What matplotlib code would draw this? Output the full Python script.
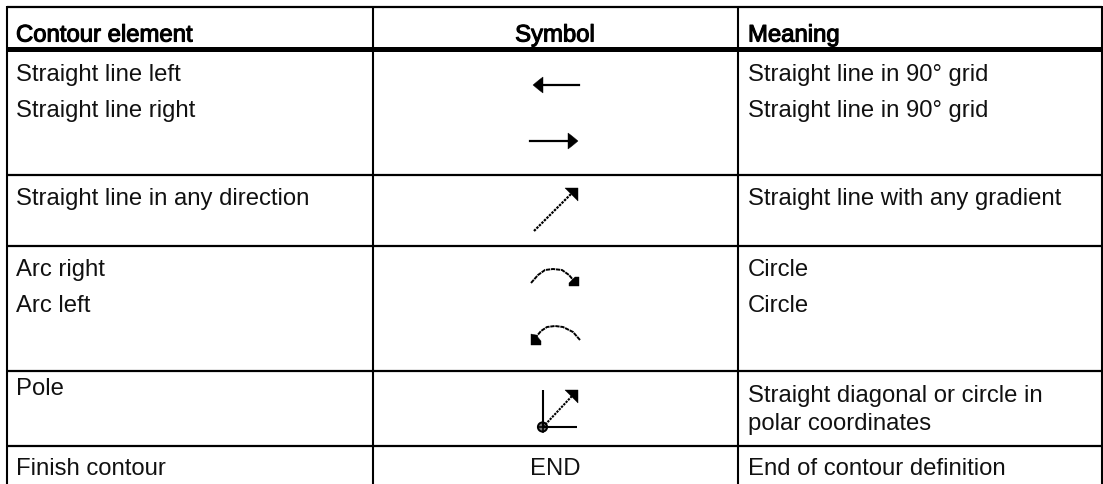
"""Contour element table with arrow symbols -> out.png."""

import matplotlib
matplotlib.use("Agg")
import matplotlib.pyplot as plt
import matplotlib.patheffects as pe
from matplotlib.patches import Circle, Polygon

WIDTH, HEIGHT = 1103, 484

HEADERS = ["Contour element", "Symbol", "Meaning"]
ELEMENTS = ["Straight line left", "Straight line right", "Straight line in any direction",
            "Arc right", "Arc left", "Pole", "Finish contour"]
MEANINGS = ["Straight line in 90° grid", "Straight line in 90° grid",
            "Straight line with any gradient", "Circle", "Circle",
            "Straight diagonal or circle in", "polar coordinates",
            "End of contour definition"]
END_SYMBOL = "END"

# layout, in image pixels
COL_X = [7, 373, 738, 1102]
ROW_Y = [7, 175, 246, 371, 446]
HEADER_Y = 49
ELEMENT_Y = [81, 117, 205, 276, 312, 395, 475]
MEANING_Y = [81, 117, 205, 276, 312, 402, 430, 475]
LEFT_TEXT = 16
RIGHT_TEXT = 748
MID_TEXT = 555
FONT = 17.2


def arrow_head(ax, pts):
    ax.add_patch(Polygon(pts, closed=True, fc="black", ec="black", lw=0.3))


def main():
    fig = plt.figure(figsize=(WIDTH / 100, HEIGHT / 100), dpi=100)
    ax = fig.add_axes([0, 0, 1, 1])
    ax.set_xlim(0, WIDTH)
    ax.set_ylim(HEIGHT, 0)
    ax.axis("off")
    plt.rcParams["font.family"] = ["Liberation Sans", "DejaVu Sans"]

    # grid
    for x in COL_X:
        ax.plot([x, x], [6, HEIGHT], color="black", lw=1.5, solid_capstyle="butt")
    for y in ROW_Y:
        ax.plot([COL_X[0], COL_X[-1]], [y, y], color="black", lw=1.6, solid_capstyle="butt")
    ax.plot([COL_X[0], COL_X[-1]], [HEADER_Y, HEADER_Y], color="black", lw=3.6, solid_capstyle="butt")

    # header, the original is a smeared regular weight
    bold = [pe.withStroke(linewidth=0.8, foreground="black")]
    ax.text(LEFT_TEXT, 41.5, HEADERS[0], fontsize=FONT, path_effects=bold)
    ax.text(MID_TEXT, 41.5, HEADERS[1], fontsize=FONT, ha="center", path_effects=bold)
    ax.text(RIGHT_TEXT, 41.5, HEADERS[2], fontsize=FONT, path_effects=bold)

    for name, y in zip(ELEMENTS, ELEMENT_Y):
        ax.text(LEFT_TEXT, y, name, fontsize=FONT, color="#111111")
    for name, y in zip(MEANINGS, MEANING_Y):
        ax.text(RIGHT_TEXT, y, name, fontsize=FONT, color="#111111")
    ax.text(MID_TEXT, 475, END_SYMBOL, fontsize=FONT, ha="center", color="#111111")

    # straight left / right
    ax.plot([541, 579], [85, 85], color="black", lw=1.6)
    arrow_head(ax, [(533, 85), (539, 80), (543, 77), (543, 93), (539, 90)])
    ax.plot([530, 570], [141, 141], color="black", lw=1.6)
    arrow_head(ax, [(578, 141), (572, 136), (568, 133), (568, 149), (572, 146)])

    # any direction
    ax.plot([534, 572], [231, 193], color="black", lw=1.6, ls=(0, (1.1, 0.5)))
    arrow_head(ax, [(578, 188), (578, 201), (573, 196), (570, 193), (565, 188)])

    # arc right / left
    ax.plot([531, 538, 545, 553, 562, 569, 574], [283, 275, 270, 269, 270, 275, 281],
            color="black", lw=1.4, ls=(0, (2.2, 0.4)))
    arrow_head(ax, [(579, 277), (579, 286), (569, 286), (569, 283), (575, 277)])
    ax.plot([580, 573, 563, 555, 547, 541, 536], [340, 332, 327, 326, 327, 331, 337],
            color="black", lw=1.4, ls=(0, (2.2, 0.4)))
    arrow_head(ax, [(531, 334), (531, 345), (541, 345), (541, 341), (536, 335)])

    # pole
    ax.plot([543, 543], [390, 427], color="black", lw=1.5, solid_capstyle="butt")
    ax.plot([543, 577], [427, 427], color="black", lw=1.5, solid_capstyle="butt")
    ax.plot([543, 572], [427, 396], color="black", lw=1.5, ls=(0, (1.1, 0.5)))
    arrow_head(ax, [(578, 390), (578, 403), (573, 398), (571, 396), (565, 390)])
    ax.add_patch(Circle((542.5, 427), 4.6, fc="#777777", ec="black", lw=1.4))
    ax.plot([538, 547], [427, 427], color="black", lw=1.2)
    ax.plot([542.5, 542.5], [422, 432], color="black", lw=1.2)

    fig.savefig("out.png", dpi=100)
    print("wrote out.png")


if __name__ == "__main__":
    main()
